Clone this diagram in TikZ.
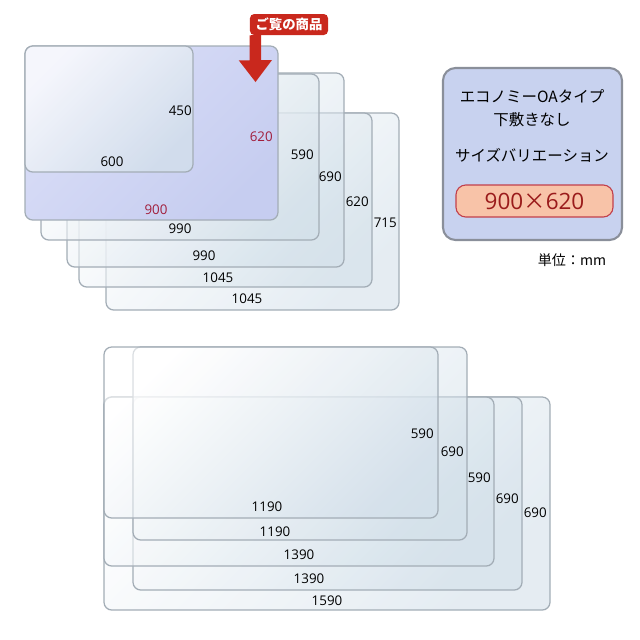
\documentclass[tikz,border=0pt]{standalone}
\usepackage{fontspec}
\setmainfont{Open Sans}
\newfontfamily\jp{Noto Sans CJK JP}
\usetikzlibrary{positioning}

\definecolor{edgegray}{HTML}{A3ADB6}
\definecolor{sheetblue}{HTML}{D3E0EA}
\definecolor{lilac}{HTML}{C6CDF0}
\definecolor{lilaclight}{HTML}{DADEF7}
\definecolor{dimred}{HTML}{A11E3C}
\definecolor{tagred}{HTML}{C9281D}
\definecolor{infofill}{HTML}{C8D2EF}
\definecolor{infoedge}{HTML}{8A8F9A}
\definecolor{sizefill}{HTML}{F8C3A8}
\definecolor{sizeedge}{HTML}{C2404C}
\definecolor{sizetext}{HTML}{9A1B1B}

\begin{document}
\begin{tikzpicture}[
    x=0.025cm, y=-0.025cm,
    sheet/.style={draw=edgegray, line width=0.9pt, rounded corners=5.5pt,
        left color=white, right color=sheetblue, shading angle=45,
        fill opacity=0.6},
    chosen/.style={draw=edgegray, line width=0.9pt, rounded corners=5.5pt,
        left color=lilaclight, right color=lilac, shading angle=45},
    dim/.style={font=\fontsize{9.5}{11}\selectfont, inner sep=0pt},
    hdim/.style={dim, anchor=east},
    redim/.style={dim, text=dimred},
    jptext/.style={font=\jp\fontsize{11}{13}\selectfont, inner sep=0pt}
]
\useasboundingbox (0,0) rectangle (640,640);

% --- upper group (back to front) ---
\shade[sheet] (106,113) rectangle (399,310);
\shade[sheet] (79,113) rectangle (372,287);
\shade[sheet] (67,73) rectangle (344,267);
\shade[sheet] (41,74) rectangle (319,240);
\shade[chosen] (25,46) rectangle (278,220);
\shade[sheet, fill opacity=0.75] (25,46) rectangle (193,172);

\node[dim] (w1045b) at (247,299) {1045};
\node[hdim] (h715) at (397,223) {715};
\node[dim] (w1045a) at (218,278) {1045};
\node[hdim] (h620b) at (369,202) {620};
\node[dim] (w990b) at (204,256) {990};
\node[hdim] (h690) at (342,177) {690};
\node[dim] (w990a) at (180,229) {990};
\node[hdim] (h590) at (314,155) {590};
\node[redim] (w900) at (156,210) {900};
\node[redim, anchor=east] (h620) at (273,137) {620};
\node[dim] (w600) at (112,162) {600};
\node[hdim] (h450) at (192,111) {450};

% --- marker ---
\node[fill=tagred, text=white, rounded corners=3pt, inner sep=0pt,
    minimum width=1.95cm, minimum height=0.525cm,
    font=\jp\bfseries\fontsize{9.5}{11}\selectfont]
    (tag) at (289,24.5) {ご覧の商品};
\coordinate (tip) at (255.5,82);
\fill[tagred] (tag.south west) -- ++(0,25) -- ++(-11,0) -- (tip)
    -- ++(16.5,-22) -- ++(-11,0) -- ++(0,-25) -- cycle;

% --- info panel ---
\node[draw=infoedge, line width=1.5pt, fill=infofill, rounded corners=9pt,
    minimum width=4.475cm, minimum height=4.3cm, inner sep=0pt] (info) at (532.5,154) {};
\node[jptext] (title) at (532,96) {エコノミーOAタイプ};
\node[jptext] (subtitle) at (532,120) {下敷きなし};
\node[jptext] (variation) at (532,155) {サイズバリエーション};
\node[draw=sizeedge, line width=0.8pt, fill=sizefill, rounded corners=7pt,
    minimum width=3.925cm, minimum height=0.8cm, inner sep=0pt, text=sizetext,
    font=\fontsize{16}{18}\selectfont] (size) at (534.5,201) {900{\jp ×}620};
\node[font=\jp\fontsize{10}{12}\selectfont] (unit) at (572,260) {単位：mm};

% --- lower group (back to front) ---
\shade[sheet] (104,397) rectangle (550,610);
\shade[sheet] (133,397) rectangle (522,590);
\shade[sheet] (104,397) rectangle (494,566);
\shade[sheet] (133,347) rectangle (467,540);
\shade[sheet] (104,347) rectangle (438,518);

\node[dim] (w1590) at (327,601) {1590};
\node[hdim] (h690c) at (547,513) {690};
\node[dim] (w1390b) at (309,579) {1390};
\node[hdim] (h690b) at (519,499) {690};
\node[dim] (w1390a) at (299,555) {1390};
\node[hdim] (h590b) at (491,478) {590};
\node[dim] (w1190b) at (275,532) {1190};
\node[hdim] (h690a) at (464,452) {690};
\node[dim] (w1190a) at (267,507) {1190};
\node[hdim] (h590a) at (434,434) {590};

\end{tikzpicture}
\end{document}
